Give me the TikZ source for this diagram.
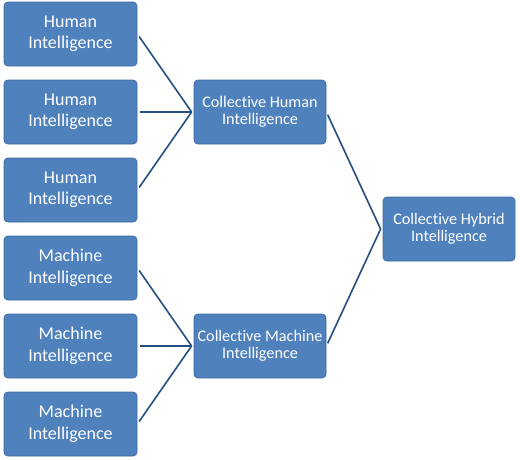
\documentclass[tikz,border=0pt]{standalone}
\usepackage{fontspec}
\setmainfont[Ligatures={NoCommon}]{Carlito}
\usetikzlibrary{calc}
\definecolor{boxfill}{HTML}{4F81BD}
\definecolor{boxedge}{HTML}{3D6CA3}
\definecolor{linkcol}{HTML}{254F80}
\begin{document}
\begin{tikzpicture}[x=1pt,y=-1pt,
  leafbox/.style={draw=boxedge,line width=0.8pt,fill=boxfill,rounded corners=4pt,
    minimum width=133pt,minimum height=64pt,inner sep=0pt,text=white,align=center,
    font=\fontsize{18}{21.5}\selectfont},
  midbox/.style={leafbox,minimum width=132pt,font=\fontsize{16.2}{17.5}\selectfont},
  link/.style={draw=linkcol,line width=1.6pt}]
\useasboundingbox (0,0) rectangle (520,459);
\node[leafbox] (h1) at (70.5,34) {Human\\Intelligence};
\node[leafbox] (h2) at (70.5,112) {Human\\Intelligence};
\node[leafbox] (h3) at (70.5,190) {Human\\Intelligence};
\node[leafbox] (m1) at (70.5,268) {Machine\\Intelligence};
\node[leafbox] (m2) at (70.5,346) {Machine\\Intelligence};
\node[leafbox] (m3) at (70.5,424) {Machine\\Intelligence};
\node[midbox] (chi) at (260,112) {Collective Human\\Intelligence};
\node[midbox] (cmi) at (260,346) {Collective Machine\\Intelligence};
\node[midbox] (chy) at (449,229) {Collective Hybrid\\Intelligence};
\coordinate (jh) at ($(chi.west)+(-2,0)$);
\coordinate (jm) at ($(cmi.west)+(-2,0)$);
\coordinate (jy) at ($(chy.west)+(-2,0)$);
\foreach \n in {h1,h2,h3} \draw[link,shorten <=3pt] (\n.east) -- (jh);
\foreach \n in {m1,m2,m3} \draw[link,shorten <=3pt] (\n.east) -- (jm);
\draw[link,shorten <=3pt] (chi.east) -- (jy);
\draw[link,shorten <=3pt] (cmi.east) -- (jy);
\end{tikzpicture}
\end{document}
